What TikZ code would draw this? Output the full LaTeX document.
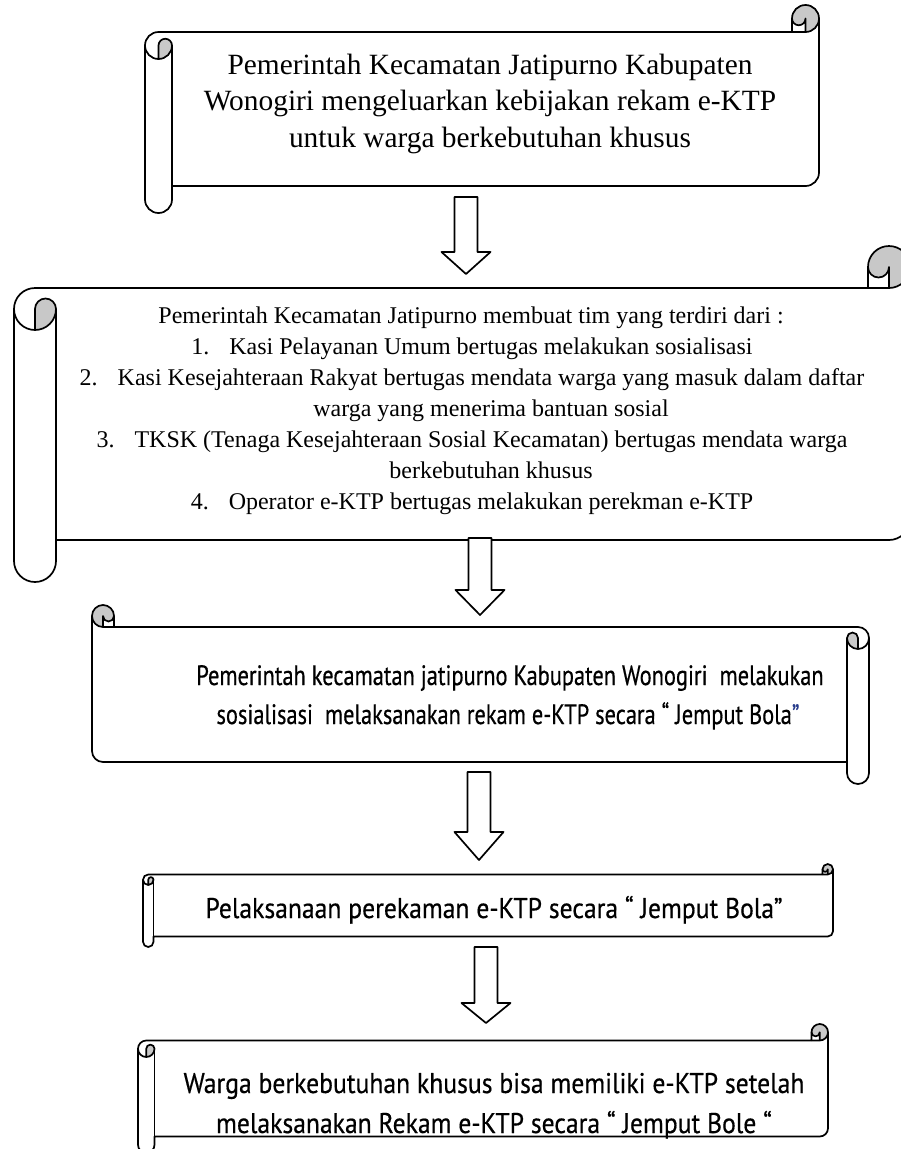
\documentclass[tikz,border=0pt]{standalone}
\usepackage{fontspec}
\setmainfont{Liberation Serif}
\newfontfamily\condsans[FakeStretch=0.8,FakeBold=0.5]{PT Sans}
\newfontfamily\semisans[FakeStretch=0.9,FakeBold=0.5]{PT Sans}
\definecolor{scrollgray}{RGB}{200,200,200}
\definecolor{qblue}{RGB}{40,60,140}
% horizontal scroll: #1 left, #2 top, #3 right, #4 bottom, #5 curl size
\newcommand\wscroll[5]{%
 \pgfmathsetmacro\qL{#1}\pgfmathsetmacro\qT{#2}\pgfmathsetmacro\qR{#3}\pgfmathsetmacro\qB{#4}%
 \pgfmathsetmacro\qh{#5/2}\pgfmathsetmacro\qq{#5/4}%
 \pgfmathsetmacro\qyA{#2+#5}\pgfmathsetmacro\qyH{#2+#5/2}%
 \pgfmathsetmacro\qyC{#2+1.5*#5}\pgfmathsetmacro\qyD{#2+2*#5}%
 \pgfmathsetmacro\qySix{#4-#5}\pgfmathsetmacro\qySev{#4-#5/2}\pgfmathsetmacro\qyFiv{#4-1.5*#5}%
 \pgfmathsetmacro\qxT{#3-#5}\pgfmathsetmacro\qxF{#3-#5/2}%
 \pgfmathsetmacro\qxLa{#1+#5/2}\pgfmathsetmacro\qxLb{#1+#5}%
 \fill[white] (\qL,\qyC) arc[start angle=180,delta angle=90,radius=\qh] -- (\qxT,\qyA) -- (\qxT,\qyH)
   arc[start angle=180,delta angle=180,radius=\qh] -- (\qR,\qyFiv)
   arc[start angle=0,delta angle=90,radius=\qh] -- (\qxLb,\qySix) -- (\qxLb,\qySev)
   arc[start angle=0,delta angle=180,radius=\qh] -- cycle;
 \fill[scrollgray] (\qxLa,\qyD) arc[start angle=90,delta angle=-90,radius=\qh]
   arc[start angle=0,delta angle=-180,radius=\qq] -- cycle;
 \fill[scrollgray] (\qxF,\qyA) arc[start angle=90,delta angle=-270,radius=\qh]
   arc[start angle=180,delta angle=-180,radius=\qq] -- cycle;
 \draw (\qL,\qyC) arc[start angle=180,delta angle=90,radius=\qh] -- (\qxT,\qyA) -- (\qxT,\qyH)
   arc[start angle=180,delta angle=180,radius=\qh] -- (\qR,\qyFiv)
   arc[start angle=0,delta angle=90,radius=\qh] -- (\qxLb,\qySix) -- (\qxLb,\qySev)
   arc[start angle=0,delta angle=180,radius=\qh] -- cycle;
 \draw (\qxT,\qyA) -- (\qxF,\qyA) arc[start angle=90,delta angle=-90,radius=\qh];
 \draw (\qxF,\qyA) -- (\qxF,\qyH) arc[start angle=0,delta angle=180,radius=\qq];
 \draw (\qxLa,\qyD) -- (\qxLa,\qyC) arc[start angle=180,delta angle=180,radius=\qq]
   arc[start angle=0,delta angle=180,radius=\qh];
 \draw (\qxLb,\qyC) -- (\qxLb,\qySix);
}
% block down arrow: #1 name, #2 centre x, #3 top, #4 head base, #5 tip
\newcommand\blockdown[5]{%
 \coordinate (#1s) at (#2,#3);
 \coordinate (#1e) at (#2,#5);
 \draw[blockarrow] ({#2-11.5},#3) -- ({#2+11.5},#3) -- ({#2+11.5},#4) -- ({#2+24.5},#4)
   -- (#1e) -- ({#2-24.5},#4) -- ({#2-11.5},#4) -- cycle;
}
\begin{document}
\begin{tikzpicture}[x=1pt,y=-1pt,line width=1.7pt,line join=round,
  ttl/.style={anchor=base,inner sep=0pt,font=\fontsize{29.4}{34}\selectfont},
  tlist/.style={anchor=base,inner sep=0pt,font=\fontsize{24}{28}\selectfont},
  tsans/.style={anchor=base,inner sep=0pt,font=\condsans\fontsize{28}{34}\selectfont},
  tsansw/.style={anchor=base,inner sep=0pt,font=\semisans\fontsize{28.5}{34}\selectfont},
  blockarrow/.style={draw=black,fill=white,line width=1.7pt}]
\useasboundingbox (0,0) rectangle (901,1149);
\clip (0,0) rectangle (901,1149);

% scrolls
\wscroll{145}{5}{819}{213}{27}
\wscroll{14}{246}{910}{582}{42}
\begin{scope}[shift={(961,0)},xscale=-1]
 \wscroll{92}{605}{869}{784}{22}
\end{scope}
\wscroll{143}{864}{833}{947}{10.5}
\wscroll{138}{1024}{828}{1153}{16.5}

% arrows
\blockdown{a1}{466}{197}{252}{274}
\blockdown{a2}{480}{538}{590}{615}
\blockdown{a3}{479}{772}{832}{860}
\blockdown{a4}{486}{947}{1003}{1023}

% texts, box 1
\node[ttl] (t1a) at (490,74) {Pemerintah Kecamatan Jatipurno Kabupaten};
\node[ttl] (t1b) at (490,110) {Wonogiri mengeluarkan kebijakan rekam e-KTP};
\node[ttl] (t1c) at (490,147) {untuk warga berkebutuhan khusus};

% box 2
\node[tlist] (t2a) at (471,323) {Pemerintah Kecamatan Jatipurno membuat tim yang terdiri dari :};
\node[tlist] (t2b) at (472,354) {\makebox[38pt][l]{1.}Kasi Pelayanan Umum bertugas melakukan sosialisasi};
\node[tlist] (t2c) at (472,385) {\makebox[38pt][l]{2.}Kasi Kesejahteraan Rakyat bertugas mendata warga yang masuk dalam daftar};
\node[tlist] (t2d) at (491,416) {warga yang menerima bantuan sosial};
\node[tlist] (t2e) at (472,447) {\makebox[38pt][l]{3.}TKSK (Tenaga Kesejahteraan Sosial Kecamatan) bertugas mendata warga};
\node[tlist] (t2f) at (491,478) {berkebutuhan khusus};
\node[tlist] (t2g) at (472,509) {\makebox[38pt][l]{4.}Operator e-KTP bertugas melakukan perekman e-KTP};

% box 3
\node[tsans] (t3a) at (510,685) {Pemerintah kecamatan jatipurno Kabupaten Wonogiri\ \ melakukan};
\node[tsans] (t3b) at (508,724) {sosialisasi\ \ melaksanakan rekam e-KTP secara “ Jemput Bola{\color{qblue}”}};

% box 4
\node[tsansw] (t4a) at (494,918) {Pelaksanaan perekaman e-KTP secara “ Jemput Bola”};

% box 5
\node[tsansw] (t5a) at (494,1093) {Warga berkebutuhan khusus bisa memiliki e-KTP setelah};
\node[tsansw] (t5b) at (494,1133) {melaksanakan Rekam e-KTP secara “ Jemput Bole “};
\end{tikzpicture}
\end{document}
